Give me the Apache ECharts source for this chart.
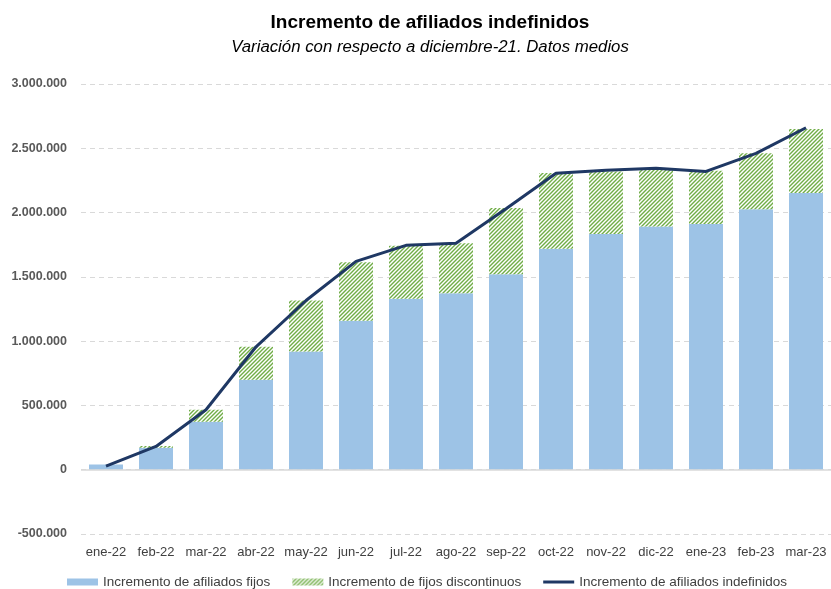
<!DOCTYPE html>
<html>
<head>
<meta charset="utf-8">
<script src="https://cdn.jsdelivr.net/npm/echarts@6/dist/echarts.min.js"></script>
<style>
html,body{margin:0;padding:0;background:#fff;}
#c{width:831px;height:589px;}
</style>
</head>
<body>
<div id="c"></div>
<script>
const categories = ['ene-22','feb-22','mar-22','abr-22','may-22','jun-22','jul-22','ago-22','sep-22','oct-22','nov-22','dic-22','ene-23','feb-23','mar-23'];
const fijos = [40000,170000,373000,700000,920000,1158000,1329000,1373000,1521000,1718000,1834000,1891000,1912000,2026000,2153000];
const discontinuos = [0,15000,93000,256000,396000,456000,412000,389000,515000,590000,486000,441000,414000,435000,497000];
const indefinidos = [28000,181000,466000,956000,1316000,1620000,1745000,1762000,2030000,2306000,2330000,2345000,2320000,2460000,2660000];
const yTicks = {min:-500000, max:3000000, step:500000};
const titleText = 'Incremento de afiliados indefinidos';
const subtitleText = 'Variación con respecto a diciembre-21. Datos medios';

const FONT = '"Liberation Sans", Arial, sans-serif';

function hatch(){
  const c = document.createElement('canvas');
  c.width = 4; c.height = 4;
  const g = c.getContext('2d');
  g.fillStyle = '#ffffff'; g.fillRect(0,0,4,4);
  g.strokeStyle = '#70AD47'; g.lineWidth = 1.4;
  g.beginPath();
  g.moveTo(0,4); g.lineTo(4,0);
  g.moveTo(-1,1); g.lineTo(1,-1);
  g.moveTo(3,5); g.lineTo(5,3);
  g.stroke();
  return c;
}
function fmt(v){
  const s = Math.abs(v).toString().replace(/\B(?=(\d{3})+(?!\d))/g,'.');
  return (v<0?'-':'') + s;
}
const chart = echarts.init(document.getElementById('c'));
chart.setOption({
  animation:false,
  backgroundColor:'#fff',
  graphic:[
    {type:'text', x:430, y:23, style:{text:titleText, align:'center', verticalAlign:'middle',
      font:'bold 19px "Liberation Sans", Arial, sans-serif', fill:'#000'}},
    {type:'text', x:430, y:47, style:{text:subtitleText, align:'center', verticalAlign:'middle',
      font:'italic 16.8px "Liberation Sans", Arial, sans-serif', fill:'#000'}}
  ],
  grid:{left:81, right:0, top:84, bottom:55},
  legend:{
    top:570, left:62, itemWidth:31, itemHeight:7, itemGap:22, padding:5,
    textStyle:{fontFamily:FONT, fontSize:13.5, color:'#404040'},
    data:[
      {name:'Incremento de afiliados fijos', icon:'rect'},
      {name:'Incremento de fijos discontinuos', icon:'rect'},
      {name:'Incremento de afiliados indefinidos', icon:'path://M0,0 L31,0 L31,3 L0,3 Z'}
    ]
  },
  xAxis:{
    type:'category', data:categories,
    axisLine:{show:false, onZero:false}, axisTick:{show:false},
    axisLabel:{fontFamily:FONT, fontSize:13, color:'#404040', margin:12, interval:0}
  },
  yAxis:{
    type:'value', min:yTicks.min, max:yTicks.max, interval:yTicks.step,
    axisLine:{show:false}, axisTick:{show:false},
    axisLabel:{fontFamily:FONT, fontSize:12.5, fontWeight:'bold', color:'#595959', margin:14, formatter:fmt},
    splitLine:{lineStyle:{color:'#d9d9d9', type:[5,4], width:1}}
  },
  series:[
    {name:'Incremento de afiliados fijos', type:'bar', stack:'a', data:fijos, barWidth:34,
     itemStyle:{color:'#9DC3E6'},
     markLine:{silent:true, symbol:'none', label:{show:false}, data:[{yAxis:0}],
       lineStyle:{color:'#d9d9d9', type:'solid', width:1.5}}},
    {name:'Incremento de fijos discontinuos', type:'bar', stack:'a', data:discontinuos, barWidth:34,
     itemStyle:{color:{image:hatch(), repeat:'repeat'}}},
    {name:'Incremento de afiliados indefinidos', type:'line', data:indefinidos, symbol:'none',
     lineStyle:{color:'#1F3864', width:3}, itemStyle:{color:'#1F3864'}, z:5}
  ]
});
</script>
</body>
</html>
